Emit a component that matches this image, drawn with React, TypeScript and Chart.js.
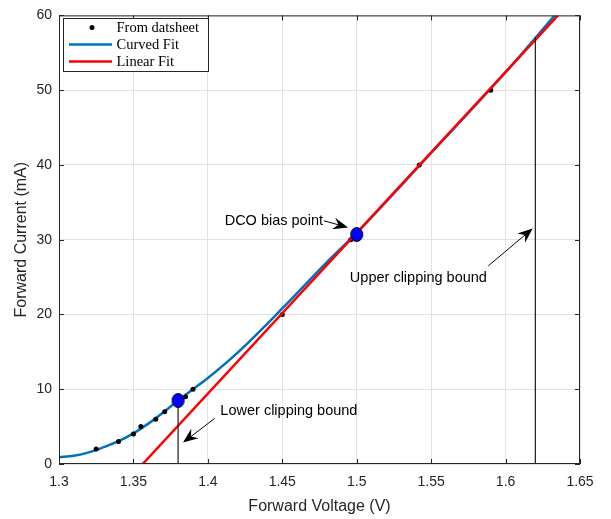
import React, { useEffect, useRef } from 'react';
import { Chart, registerables } from 'chart.js';

Chart.register(...registerables);

// Datasheet points (Forward Voltage V, Forward Current mA)
const datasheetV = [1.325, 1.34, 1.35, 1.355, 1.365, 1.371, 1.38, 1.385, 1.39, 1.45, 1.496, 1.542, 1.59];
const datasheetI = [2, 3, 4, 5, 6, 7, 8, 9, 10, 20, 30, 40, 50];

// Curved fit
const curveV = [1.30, 1.31, 1.32, 1.33, 1.34, 1.35, 1.36, 1.37, 1.38, 1.39, 1.40, 1.42, 1.45, 1.48, 1.50, 1.55, 1.60, 1.633];
const curveI = [0.9, 1.1, 1.55, 2.25, 3.05, 4.1, 5.4, 6.9, 8.5, 10.0, 11.5, 14.9, 20.8, 27.0, 30.9, 41.6, 52.4, 60];

// Linear fit end points
const linearV = [1.3562, 1.6352];
const linearI = [0, 60];

// Highlighted points (lower clipping, DCO bias)
const markV = [1.38, 1.5];
const markI = [8.5, 30.7];

// Clipping bounds (vertical lines)
const lowerClipV = [1.38, 1.38];
const lowerClipI = [0, 8.5];
const upperClipV = [1.62, 1.62];
const upperClipI = [0, 57.1];

// Axis ticks
const xMin = 1.3, xMax = 1.65, xStep = 0.05;
const yMin = 0, yMax = 60, yStep = 10;

// Annotations: text, text anchor (V, mA), arrow tail, arrow head
const noteTexts = ['DCO bias point', 'Lower clipping bound', 'Upper clipping bound'];
const noteTextV = [1.4113, 1.4084, 1.4954];
const noteTextI = [32.5, 7.12, 24.9];
const noteTailV = [1.4779, 1.4046, 1.5884];
const noteTailI = [32.53, 6.1, 26.5];
const noteHeadV = [1.4942, 1.3833, 1.6182];
const noteHeadI = [31.64, 2.86, 31.5];

const pts = (xs: number[], ys: number[]) => xs.map((v, i) => ({ x: v, y: ys[i] }));

function makeEllipse(): HTMLCanvasElement {
  const c = document.createElement('canvas');
  c.width = 15;
  c.height = 17;
  const g = c.getContext('2d')!;
  g.beginPath();
  g.ellipse(7.5, 8.5, 6, 7, 0, 0, Math.PI * 2);
  g.fillStyle = '#0000ff';
  g.fill();
  g.lineWidth = 1;
  g.strokeStyle = '#000000';
  g.stroke();
  return c;
}

const SANS = '"Liberation Sans", Arial, Helvetica, sans-serif';
const SERIF = '"Liberation Serif", "Times New Roman", serif';

const overlayPlugin = {
  id: 'overlay',
  afterDraw(chart: any) {
    const { ctx, chartArea: a, scales } = chart;
    const x = scales.x, y = scales.y;
    ctx.save();
    // inward ticks
    ctx.strokeStyle = '#262626';
    ctx.lineWidth = 1;
    ctx.beginPath();
    x.ticks.forEach((t: any) => {
      const px = Math.round(x.getPixelForValue(t.value)) + 0.5;
      ctx.moveTo(px, a.bottom);
      ctx.lineTo(px, a.bottom - 5);
      ctx.moveTo(px, a.top);
      ctx.lineTo(px, a.top + 5);
    });
    y.ticks.forEach((t: any) => {
      const py = Math.round(y.getPixelForValue(t.value)) + 0.5;
      ctx.moveTo(a.left, py);
      ctx.lineTo(a.left + 5, py);
      ctx.moveTo(a.right, py);
      ctx.lineTo(a.right - 5, py);
    });
    ctx.stroke();
    ctx.strokeRect(a.left + 0.5, a.top + 0.5, a.right - a.left - 1, a.bottom - a.top - 1);

    // annotations
    ctx.fillStyle = '#000';
    ctx.font = `14.5px ${SANS}`;
    ctx.textBaseline = 'middle';
    ctx.textAlign = 'left';
    noteTexts.forEach((txt, i) => {
      ctx.fillText(txt, x.getPixelForValue(noteTextV[i]), y.getPixelForValue(noteTextI[i]));
      const tx = x.getPixelForValue(noteTailV[i]), ty = y.getPixelForValue(noteTailI[i]);
      const hx = x.getPixelForValue(noteHeadV[i]), hy = y.getPixelForValue(noteHeadI[i]);
      const dx = hx - tx, dy = hy - ty;
      const len = Math.hypot(dx, dy);
      const ux = dx / len, uy = dy / len;
      const nx = -uy, ny = ux;
      const L = 15, W = 6, N = 10;
      ctx.strokeStyle = '#000';
      ctx.lineWidth = 1;
      ctx.beginPath();
      ctx.moveTo(tx, ty);
      ctx.lineTo(hx - ux * N, hy - uy * N);
      ctx.stroke();
      ctx.beginPath();
      ctx.moveTo(hx, hy);
      ctx.lineTo(hx - ux * L + nx * W, hy - uy * L + ny * W);
      ctx.lineTo(hx - ux * N, hy - uy * N);
      ctx.lineTo(hx - ux * L - nx * W, hy - uy * L - ny * W);
      ctx.closePath();
      ctx.fill();
    });

    // legend box
    const ds = chart.data.datasets;
    const bx = 63.5, by = 18.5, bw = 145, bh = 53;
    ctx.fillStyle = '#ffffff';
    ctx.fillRect(bx, by, bw, bh);
    ctx.strokeStyle = '#262626';
    ctx.lineWidth = 1;
    ctx.strokeRect(bx, by, bw, bh);
    ctx.font = `14.5px ${SERIF}`;
    ctx.textBaseline = 'middle';
    const rows = [27.5, 44.5, 61.5];
    [0, 1, 2].forEach((k) => {
      const d = ds[k];
      const ry = rows[k];
      if (k === 0) {
        ctx.fillStyle = '#000';
        ctx.beginPath();
        ctx.arc(92, ry, 2.5, 0, Math.PI * 2);
        ctx.fill();
      } else {
        ctx.strokeStyle = d.borderColor;
        ctx.lineWidth = 2.5;
        ctx.beginPath();
        ctx.moveTo(69, ry);
        ctx.lineTo(112, ry);
        ctx.stroke();
      }
      ctx.fillStyle = '#000';
      ctx.fillText(d.label, 116.5, ry + 0.5);
    });
    ctx.restore();
  },
};

export default function App() {
  const ref = useRef<HTMLCanvasElement | null>(null);
  useEffect(() => {
    if (!ref.current) return;
    const ellipse = makeEllipse();
    const chart = new Chart(ref.current, {
      type: 'scatter',
      data: {
        datasets: [
          {
            label: 'From datsheet',
            data: pts(datasheetV, datasheetI),
            showLine: false,
            pointRadius: 2.5,
            pointBackgroundColor: '#000',
            pointBorderWidth: 0,
            borderColor: '#000',
            order: 4,
          } as any,
          {
            label: 'Curved Fit',
            data: pts(curveV, curveI),
            showLine: true,
            borderColor: '#0072BD',
            borderWidth: 2.5,
            pointRadius: 0,
            cubicInterpolationMode: 'monotone',
            order: 5,
          },
          {
            label: 'Linear Fit',
            data: pts(linearV, linearI),
            showLine: true,
            borderColor: '#ff0000',
            borderWidth: 2.5,
            pointRadius: 0,
            order: 3,
          },
          {
            label: 'lower',
            data: pts(lowerClipV, lowerClipI),
            showLine: true,
            borderColor: '#1a1a1a',
            borderWidth: 1.2,
            pointRadius: 0,
            order: 2,
          },
          {
            label: 'upper',
            data: pts(upperClipV, upperClipI),
            showLine: true,
            borderColor: '#1a1a1a',
            borderWidth: 1.2,
            pointRadius: 0,
            order: 2,
          },
          {
            label: 'marks',
            data: pts(markV, markI),
            showLine: false,
            pointStyle: ellipse,
            pointRadius: 7,
            order: 1,
          } as any,
        ],
      },
      options: {
        animation: false,
        responsive: false,
        devicePixelRatio: 1,
        layout: { padding: { top: 9, right: 31, left: 0, bottom: 0 } },
        plugins: { legend: { display: false }, tooltip: { enabled: false } },
        scales: {
          x: {
            type: 'linear',
            min: xMin,
            max: xMax,
            afterFit: (s: any) => { s.height = 55; },
            afterBuildTicks: (s: any) => {
              const t = [];
              for (let v = xMin; v <= xMax + 1e-9; v += xStep) t.push({ value: Math.round(v * 100) / 100 });
              s.ticks = t;
            },
            grid: { color: '#e3e3e3', drawTicks: false },
            border: { display: false },
            ticks: {
              padding: 10,
              color: '#262626',
              font: { family: SANS, size: 14 },
              maxRotation: 0,
              callback: (v: any) => String(Math.round(Number(v) * 100) / 100),
            },
            title: {
              display: true,
              text: 'Forward Voltage (V)',
              color: '#262626',
              font: { family: SANS, size: 16 },
              padding: { top: 0, bottom: 3 },
            },
          },
          y: {
            type: 'linear',
            min: yMin,
            max: yMax,
            afterFit: (s: any) => { s.width = 59; },
            grid: { color: '#e3e3e3', drawTicks: false },
            border: { display: false },
            ticks: {
              stepSize: yStep,
              padding: 7,
              color: '#262626',
              font: { family: SANS, size: 14 },
            },
            title: {
              display: true,
              text: 'Forward Current (mA)',
              color: '#262626',
              font: { family: SANS, size: 16 },
              padding: { top: 12, bottom: 0 },
            },
          },
        },
      },
      plugins: [overlayPlugin],
    });
    return () => chart.destroy();
  }, []);
  return (
    <div style={{ position: 'absolute', left: 0, top: 0, width: 611, height: 519, background: '#fff' }}>
      <canvas ref={ref} width={611} height={519} style={{ width: 611, height: 519, display: 'block' }} />
    </div>
  );
}
